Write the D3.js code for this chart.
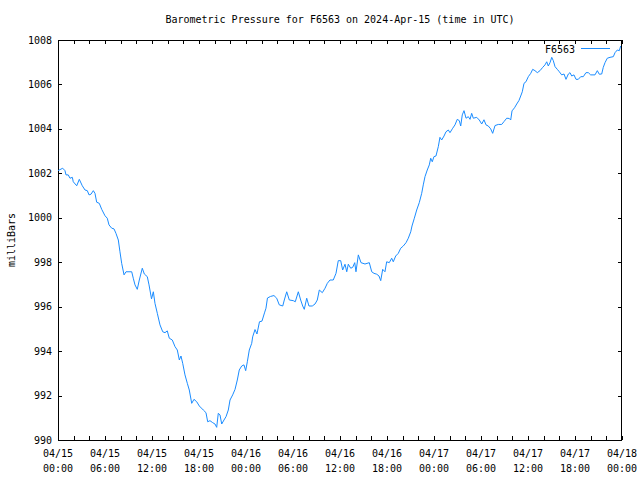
<!DOCTYPE html>
<html><head><meta charset="utf-8">
<script src="https://cdn.jsdelivr.net/npm/d3@7"></script>
<style>
body{margin:0;background:#fff}
svg text{font-family:"DejaVu Sans Mono","Liberation Mono",monospace;font-size:10px;fill:#000}
</style>
</head><body><svg id="c" width="640" height="480"></svg>
<script>
const chartTitle = "Barometric Pressure for F6563 on 2024-Apr-15 (time in UTC)";
const seriesName = "F6563";
const yAxisLabel = "milliBars";
const startUTC = Date.UTC(2024, 3, 15, 0, 0);
const endUTC = Date.UTC(2024, 3, 18, 0, 0);
const yTicks = [990, 992, 994, 996, 998, 1000, 1002, 1004, 1006, 1008];
// hours since 2024-04-15 00:00 UTC
const hours = [0.00,0.60,0.89,1.02,1.31,1.53,1.83,1.95,2.39,2.72,3.10,3.45,3.74,3.96,4.21,4.51,4.72,4.94,5.27,5.58,
6.00,6.29,6.51,6.86,7.15,7.40,7.70,7.91,8.13,8.43,8.68,9.41,9.61,9.83,10.12,10.38,10.76,11.02,11.40,11.62,
11.94,12.17,12.38,12.68,13.02,13.37,13.66,13.95,14.21,14.59,14.94,15.23,15.49,15.70,15.92,16.21,16.51,16.76,17.07,17.36,
17.71,18.04,18.55,18.89,19.11,19.40,19.75,20.04,20.26,20.46,20.68,20.90,21.19,21.45,21.74,21.96,22.30,22.60,22.89,23.14,
23.45,23.74,23.96,24.17,24.42,24.73,24.85,25.15,25.40,25.72,26.04,26.36,26.55,26.74,27.13,27.57,27.92,28.25,28.69,28.89,
29.20,29.53,30.04,30.29,30.68,30.98,31.24,31.44,31.75,32.04,32.46,32.81,33.10,33.36,33.74,34.09,34.38,34.72,35.14,35.49,
35.78,36.09,36.34,36.64,36.86,37.06,37.37,37.62,37.88,38.04,38.34,38.68,39.19,39.74,40.05,40.34,40.69,40.98,41.20,41.45,
41.74,41.96,42.29,42.60,42.80,43.11,43.44,43.75,44.08,44.43,44.72,45.03,45.19,45.49,45.79,46.12,46.43,46.63,46.85,47.14,
47.40,47.58,47.78,47.99,48.25,48.55,48.76,48.98,49.28,49.53,49.83,50.04,50.39,50.68,50.97,51.23,51.41,51.61,51.83,52.09,
52.38,52.60,52.81,53.02,53.45,53.78,54.09,54.38,54.64,54.93,55.24,55.49,55.79,56.21,56.64,56.94,57.28,57.61,57.79,57.96,
58.28,58.56,58.85,59.07,59.27,59.49,59.74,60.04,60.35,60.60,60.89,61.19,61.53,61.88,62.17,62.39,62.59,62.81,63.03,63.23,
63.45,63.74,64.00,64.30,64.60,64.85,65.15,65.36,65.58,65.87,66.13,66.42,66.73,67.06,67.40,67.70,68.00,68.55,68.85,69.10,
69.41,69.61,69.83,70.12,70.47,70.89,71.11,71.40,71.66,71.83];
const pressure = [1002.12,1002.23,1002.12,1001.93,1001.93,1001.78,1001.82,1001.62,1001.44,1001.73,1001.44,1001.25,1001.22,1001.03,1001.06,1001.22,1001.10,1000.70,1000.65,1000.38,
1000.09,999.98,999.68,999.53,999.50,999.30,999.00,998.47,997.95,997.43,997.57,997.57,997.28,996.98,996.78,997.20,997.73,997.47,997.35,996.98,
996.35,996.67,996.15,995.70,995.18,994.87,994.83,994.91,994.58,994.50,994.20,994.05,993.60,993.78,993.45,992.93,992.55,992.25,991.65,991.83,
991.72,991.53,991.35,991.23,990.82,990.87,990.78,990.72,990.57,991.20,991.13,990.72,990.90,991.05,991.35,991.80,992.03,992.28,992.70,993.15,
993.33,993.38,993.12,993.52,994.05,994.35,994.64,994.97,994.77,995.32,995.35,995.72,995.93,996.39,996.46,996.50,996.38,996.08,996.03,996.30,
996.67,996.30,996.27,996.22,996.67,996.30,996.03,995.88,996.38,996.03,996.03,996.12,996.30,996.75,996.63,996.83,997.05,997.20,997.20,997.50,
998.07,998.07,997.65,997.91,997.57,997.91,997.73,997.77,997.98,997.57,998.33,997.98,997.92,997.98,997.57,997.50,997.46,997.38,997.17,997.68,
997.57,998.02,997.98,998.18,998.02,998.28,998.40,998.63,998.73,998.88,999.08,999.37,999.63,999.98,1000.35,1000.68,1001.10,1001.48,1001.85,1002.15,
1002.38,1002.68,1002.52,1002.75,1002.78,1003.20,1003.62,1003.50,1003.68,1003.87,1003.95,1003.83,1004.03,1004.18,1004.43,1004.37,1004.13,1004.63,1004.82,1004.48,
1004.55,1004.43,1004.70,1004.48,1004.52,1004.40,1004.22,1004.41,1004.18,1004.13,1004.00,1003.80,1004.15,1004.20,1004.20,1004.33,1004.48,1004.47,1004.40,1004.81,
1004.95,1005.12,1005.28,1005.48,1005.67,1006.05,1006.12,1006.35,1006.50,1006.68,1006.62,1006.53,1006.62,1006.77,1006.88,1007.02,1006.83,1006.98,1007.22,1007.07,
1006.80,1006.68,1006.57,1006.43,1006.47,1006.23,1006.47,1006.53,1006.38,1006.43,1006.23,1006.23,1006.35,1006.35,1006.53,1006.53,1006.43,1006.43,1006.62,1006.46,
1006.47,1006.77,1006.98,1007.18,1007.22,1007.25,1007.43,1007.55,1007.52,1007.73];

const data = hours.map((h, i) => ({t: new Date(startUTC + h * 3600e3), v: pressure[i]}));

const L = 58, R = 622, T = 40, B = 440;
const svg = d3.select("#c");
const x = d3.scaleUtc().domain([new Date(startUTC), new Date(endUTC)]).range([L, R]);
const y = d3.scaleLinear().domain([990, 1008]).range([B, T]);
const lineColor = "#1a8cff";

// ticks (inward, mirrored)
const minorTicks = x.ticks(d3.utcHour.every(2));
const axStyle = g => { g.select(".domain").remove(); g.selectAll("line").attr("stroke", "#000").attr("shape-rendering", "crispEdges"); g.selectAll("text").remove(); };
svg.append("g").attr("transform", `translate(0,${B})`).call(d3.axisBottom(x).tickValues(minorTicks).tickSize(-4).tickSizeOuter(0)).call(axStyle);
svg.append("g").attr("transform", `translate(0,${T})`).call(d3.axisTop(x).tickValues(minorTicks).tickSize(-4).tickSizeOuter(0)).call(axStyle);
svg.append("g").attr("transform", `translate(${L},0)`).call(d3.axisLeft(y).tickValues(yTicks).tickSize(-4).tickSizeOuter(0)).call(axStyle);
svg.append("g").attr("transform", `translate(${R},0)`).call(d3.axisRight(y).tickValues(yTicks).tickSize(-4).tickSizeOuter(0)).call(axStyle);

// frame
svg.append("rect").attr("x", L + 0.5).attr("y", T + 0.5).attr("width", R - L - 1).attr("height", B - T)
  .attr("fill", "none").attr("stroke", "#000").attr("shape-rendering", "crispEdges");

// y labels
svg.append("g").selectAll("text").data(yTicks).join("text")
  .attr("x", L - 6).attr("y", d => y(d)).attr("dy", "0.35em").attr("text-anchor", "end").text(d => d);

// x labels
const fmtD = d3.utcFormat("%m/%d"), fmtT = d3.utcFormat("%H:%M");
const major = x.ticks(d3.utcHour.every(6));
const xl = svg.append("g").selectAll("text").data(major).join("text").attr("text-anchor", "middle");
xl.append("tspan").attr("x", d => x(d)).attr("y", 457).text(d => fmtD(d));
xl.append("tspan").attr("x", d => x(d)).attr("y", 472).text(d => fmtT(d));

// title
svg.append("text").attr("x", (L + R) / 2).attr("y", 23).attr("text-anchor", "middle").text(chartTitle);
// y axis label
svg.append("text").attr("transform", `translate(15,240) rotate(-90)`).attr("text-anchor", "middle").text(yAxisLabel);

// line
svg.append("path").datum(data).attr("fill", "none").attr("stroke", lineColor).attr("stroke-width", 1)
  .attr("d", d3.line().x(d => x(d.t)).y(d => y(d.v)));

// legend
svg.append("text").attr("x", 575).attr("y", 49).attr("dy", "0.35em").attr("text-anchor", "end").text(seriesName);
svg.append("line").attr("x1", 581).attr("x2", 610).attr("y1", 48.5).attr("y2", 48.5).attr("stroke", lineColor).attr("stroke-width", 1);
</script></body></html>
